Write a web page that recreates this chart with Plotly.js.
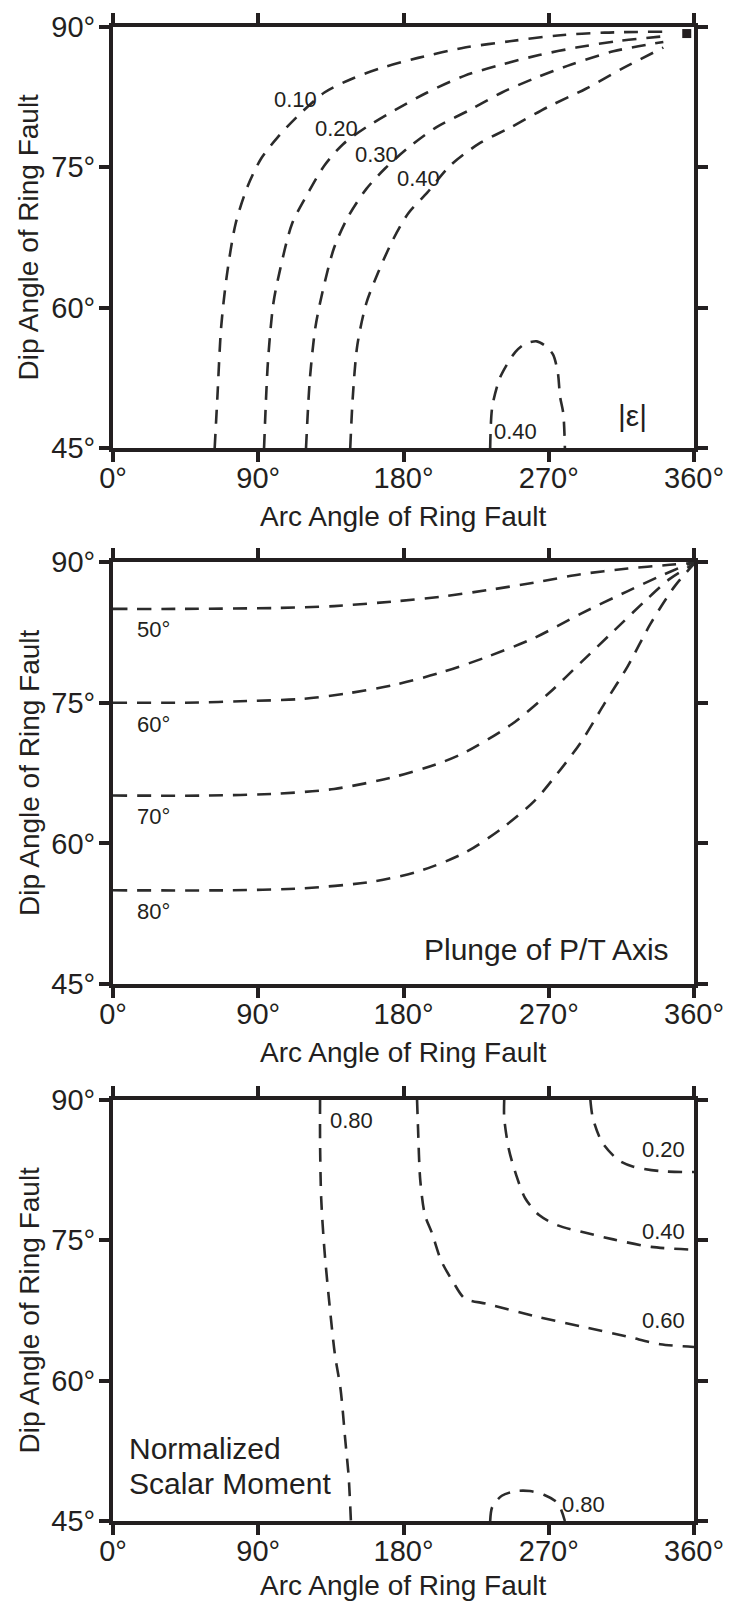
<!DOCTYPE html>
<html>
<head>
<meta charset="utf-8">
<script src="https://cdn.plot.ly/plotly-3.0.1.min.js"></script>
<style>html,body{margin:0;padding:0;background:#fff;}#chart{width:730px;height:1604px;}</style>
</head>
<body>
<div id="chart"></div>
<script>
// ---- tick labels ----
const xTickVals = [0, 90, 180, 270, 360];
const xTickText = ['0°', '90°', '180°', '270°', '360°'];
const yTickVals = [45, 60, 75, 90];
const yTickText = ['45°', '60°', '75°', '90°'];
const xTitle = 'Arc Angle of Ring Fault';
const yTitle = 'Dip Angle of Ring Fault';

// ---- Panel 1: |epsilon| contours (x = arc angle, y = dip angle) ----
const eps010X = [63, 64.7, 67, 70.5, 76, 83.5, 92, 102, 114, 131, 148.5, 166, 189, 218, 247, 275.6, 304.5, 341];
const eps010Y = [45, 50.5, 57.9, 63.4, 69, 73, 76, 78.2, 80.4, 83, 84.5, 85.6, 86.7, 87.8, 88.5, 89.1, 89.4, 89.5];
const eps020X = [93.6, 96, 99.4, 103.7, 111, 121, 131, 142.7, 157, 174.5, 194.7, 218, 241, 264, 287, 313, 341];
const eps020Y = [45, 54.2, 60.5, 64.2, 69, 72.3, 75.2, 77.5, 79.3, 81.1, 83, 84.8, 86, 87, 87.8, 88.5, 89.0];
const eps030X = [119.6, 122, 125.4, 129.7, 137, 145.6, 157, 168.7, 183, 200.5, 220.7, 241, 261, 284, 310, 341];
const eps030Y = [45, 52.4, 57.9, 61.6, 66.4, 69.7, 72.7, 74.9, 77.1, 79.3, 81.1, 83, 84.5, 86, 87.4, 88.4];
const eps040X = [147, 148.6, 151.4, 157, 164.4, 173, 183, 194.7, 209, 226.5, 246.7, 270, 293, 316, 341];
const eps040Y = [45, 50.5, 56, 60.5, 63.8, 67.1, 70.1, 72.3, 75.2, 77.5, 79.3, 81.5, 83.4, 85.6, 87.8];
const eps040bX = [233.7, 235, 239.5, 244, 249.5, 255, 262.6, 268, 272.6, 275.6, 277, 279, 280];
const eps040bY = [45, 49.4, 52.4, 53.9, 55.3, 56.1, 56.4, 55.9, 55, 53.1, 50.5, 48.7, 45];
const epsMarkX = [355.5];
const epsMarkY = [89.3];
const epsLabels = ['0.10', '0.20', '0.30', '0.40', '0.40'];
const epsLabelX = [113, 138.4, 163.5, 189, 249.6];
const epsLabelY = [82.3, 79.1, 76.4, 73.8, 46.8];

// ---- Panel 2: plunge of P/T axis contours ----
const pl50X = [0, 44.5, 102, 137, 174.5, 203, 232, 261, 290, 319, 345, 360];
const pl50Y = [85, 85, 85.1, 85.3, 85.8, 86.3, 87, 87.8, 88.7, 89.3, 89.7, 89.9];
const pl60X = [0, 44.5, 88, 117, 145.6, 174.5, 203, 232, 261, 290, 319, 339, 354, 360];
const pl60Y = [75, 75, 75.2, 75.4, 76, 76.9, 78.2, 79.9, 81.9, 84.5, 86.9, 88.5, 89.6, 90];
const pl70X = [0, 59, 102, 137, 174.5, 203, 218, 247, 270, 290, 310, 330, 345, 360];
const pl70Y = [65.1, 65.1, 65.3, 65.8, 67.1, 68.6, 69.7, 72.7, 76, 79.3, 82.6, 85.9, 88.2, 89.8];
const pl80X = [0, 73, 117, 160, 189, 218, 241, 261, 275.6, 290, 304.5, 319, 333, 348, 360];
const pl80Y = [55, 55, 55.2, 55.9, 57, 59, 61.6, 64.5, 67.5, 70.8, 74.9, 78.9, 83.4, 87.4, 89.8];
const plLabels = ['50°', '60°', '70°', '80°'];
const plLabelX = [24.8, 24.8, 24.8, 24.8];
const plLabelY = [82.8, 72.7, 62.9, 52.7];

// ---- Panel 3: normalized scalar moment contours ----
const m080X = [128.3, 128.3, 129, 131, 134, 137.5, 141, 144, 146, 147.4];
const m080Y = [90, 85.5, 79.5, 74, 68.4, 62.8, 59.1, 53.5, 49.8, 45];
const m060X = [188.4, 189, 190.4, 193.3, 197.6, 203.4, 210.6, 217.9, 232, 261, 290, 319, 339, 360];
const m060Y = [90, 87, 81.4, 77.7, 75.8, 72.8, 70.6, 68.8, 68.2, 66.9, 65.8, 64.7, 63.9, 63.6];
const m040X = [242.4, 242.4, 245.3, 249.6, 255.4, 264, 275.6, 292.9, 310, 333.4, 360];
const m040Y = [90, 88.1, 84.7, 82.1, 79.5, 77.7, 76.6, 75.8, 75.1, 74.3, 74];
const m020X = [295.8, 297.3, 303, 313, 322, 339, 360];
const m020Y = [90, 88.1, 85.5, 83.6, 82.9, 82.4, 82.3];
const m080bX = [233.7, 235, 240.9, 249.6, 258.3, 267, 275.6, 280];
const m080bY = [45, 46.5, 47.7, 48.2, 48.2, 47.8, 46.9, 45];
const mLabels = ['0.80', '0.20', '0.40', '0.60', '0.80'];
const mLabelX = [147.6, 341.2, 341.2, 341.2, 291.8];
const mLabelY = [87.8, 84.7, 75.9, 66.4, 46.8];

// ---- styles ----
const FONT = 'Liberation Sans, Arial, Helvetica, sans-serif';
const INK = '#231f20';
const dashLine = {color: '#2b2b2b', width: 2.6, dash: '14px,10px', shape: 'spline', smoothing: 0.8};

function curve(xs, ys, xa, ya) {
  return {type: 'scatter', mode: 'lines', x: xs, y: ys, xaxis: xa, yaxis: ya,
          line: dashLine, hoverinfo: 'skip', showlegend: false};
}

const traces = [
  curve(eps010X, eps010Y, 'x', 'y'),
  curve(eps020X, eps020Y, 'x', 'y'),
  curve(eps030X, eps030Y, 'x', 'y'),
  curve(eps040X, eps040Y, 'x', 'y'),
  curve(eps040bX, eps040bY, 'x', 'y'),
  {type: 'scatter', mode: 'markers', x: epsMarkX, y: epsMarkY, xaxis: 'x', yaxis: 'y',
   marker: {symbol: 'square', size: 9, color: INK}, showlegend: false, hoverinfo: 'skip'},
  curve(pl50X, pl50Y, 'x2', 'y2'),
  curve(pl60X, pl60Y, 'x2', 'y2'),
  curve(pl70X, pl70Y, 'x2', 'y2'),
  curve(pl80X, pl80Y, 'x2', 'y2'),
  curve(m080X, m080Y, 'x3', 'y3'),
  curve(m060X, m060Y, 'x3', 'y3'),
  curve(m040X, m040Y, 'x3', 'y3'),
  curve(m020X, m020Y, 'x3', 'y3'),
  curve(m080bX, m080bY, 'x3', 'y3')
];

function xAxis(anchor) {
  return {
    anchor: anchor, range: [0, 360], tickmode: 'array', tickvals: xTickVals, ticktext: xTickText,
    ticks: 'outside', ticklen: 10, tickwidth: 4, tickcolor: INK, ticklabelstandoff: -9,
    showline: true, linewidth: 4, linecolor: INK, mirror: 'ticks',
    showgrid: false, zeroline: false, fixedrange: true,
    tickfont: {family: FONT, size: 29, color: INK}
  };
}
function yAxis(anchor, domain) {
  return {
    anchor: anchor, domain: domain, range: [45, 90], tickmode: 'array', tickvals: yTickVals, ticktext: yTickText,
    ticks: 'outside', ticklen: 10, tickwidth: 4, tickcolor: INK, ticklabelstandoff: -2,
    showline: true, linewidth: 4, linecolor: INK, mirror: 'ticks',
    showgrid: false, zeroline: false, fixedrange: true,
    tickfont: {family: FONT, size: 29, color: INK}
  };
}

const annotations = [];
function addLabels(texts, xs, ys, xa, ya, size) {
  texts.forEach((t, i) => annotations.push({
    text: t, x: xs[i], y: ys[i], xref: xa, yref: ya, showarrow: false,
    font: {family: FONT, size: size, color: INK}, xanchor: 'center', yanchor: 'middle'
  }));
}
addLabels(epsLabels, epsLabelX, epsLabelY, 'x', 'y', 22);
addLabels(plLabels, plLabelX, plLabelY, 'x2', 'y2', 22);
addLabels(mLabels, mLabelX, mLabelY, 'x3', 'y3', 22);
annotations.push({text: '|ε|', x: 321.9, y: 48.5, xref: 'x', yref: 'y', showarrow: false,
  font: {family: FONT, size: 30, color: INK}, xanchor: 'center', yanchor: 'middle'});
annotations.push({text: 'Plunge of P/T Axis', x: 346, y: 48.7, xref: 'x2', yref: 'y2', showarrow: false,
  font: {family: FONT, size: 30, color: INK}, xanchor: 'right', yanchor: 'middle'});
annotations.push({text: 'Normalized', x: 8.4, y: 52.8, xref: 'x3', yref: 'y3', showarrow: false,
  font: {family: FONT, size: 30, color: INK}, xanchor: 'left', yanchor: 'middle'});
annotations.push({text: 'Scalar Moment', x: 8.4, y: 49.0, xref: 'x3', yref: 'y3', showarrow: false,
  font: {family: FONT, size: 30, color: INK}, xanchor: 'left', yanchor: 'middle'});

// axis titles, one pair per panel
const xTitleShift = {'': -68, '2': -68, '3': -64};
['', '2', '3'].forEach(s => {
  annotations.push({text: xTitle, xref: 'x' + s + ' domain', yref: 'y' + s + ' domain', x: 0.5, y: 0,
    yshift: xTitleShift[s], xanchor: 'center', yanchor: 'middle', showarrow: false,
    font: {family: FONT, size: 28, color: INK}});
  annotations.push({text: yTitle, xref: 'x' + s + ' domain', yref: 'y' + s + ' domain', x: 0, y: 0.5,
    xshift: -84, textangle: -90, xanchor: 'center', yanchor: 'middle', showarrow: false,
    font: {family: FONT, size: 28, color: INK}});
});

const layout = {
  width: 730, height: 1604,
  margin: {l: 113, r: 36, t: 27, b: 83, pad: 0},
  paper_bgcolor: '#ffffff', plot_bgcolor: '#ffffff',
  showlegend: false,
  font: {family: FONT, color: INK},
  xaxis: xAxis('y'), yaxis: yAxis('x', [0.7182, 1.0]),
  xaxis2: xAxis('y2'), yaxis2: yAxis('x2', [0.3594, 0.6419]),
  xaxis3: xAxis('y3'), yaxis3: yAxis('x3', [0.0, 0.2818]),
  annotations: annotations
};

Plotly.newPlot('chart', traces, layout, {displayModeBar: false, staticPlot: true});
</script>
</body>
</html>
